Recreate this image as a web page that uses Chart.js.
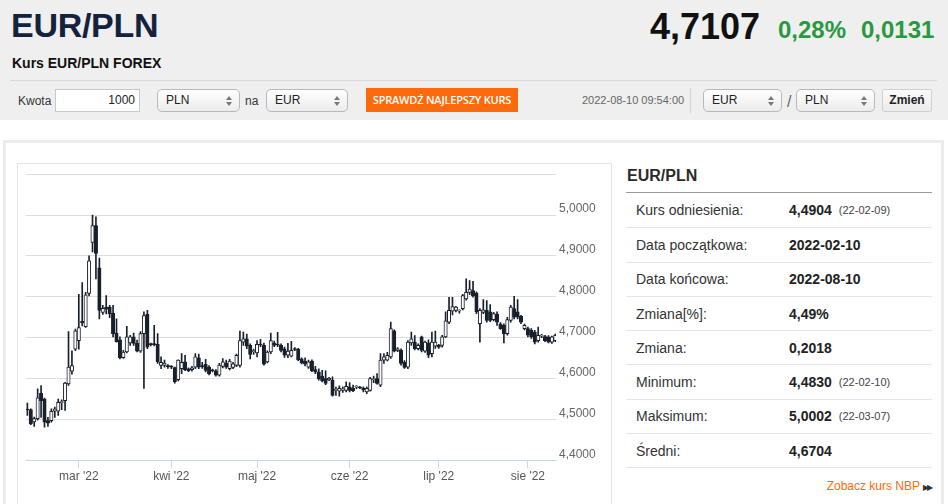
<!DOCTYPE html>
<html lang="pl">
<head>
<meta charset="UTF-8">
<title>Kurs EUR/PLN FOREX</title>
<script src="https://cdn.jsdelivr.net/npm/chart.js"></script>
<style>
    * { box-sizing: border-box; }
    body {
        margin: 0;
        width: 948px;
        height: 504px;
        overflow: hidden;
        background: #fff;
        font-family: Arial, "Liberation Sans", sans-serif;
        color: #333;
        position: relative;
    }
    .abs { position: absolute; white-space: nowrap; }
    .top {
        position: absolute; left: 0; top: 0; width: 948px; height: 120px;
        background: #efefef;
    }
    .title { left: 11px; top: 8px; font-size: 34px; line-height: 34px; font-weight: bold; color: #14223d; letter-spacing: -0.3px; }
    .subtitle { left: 12px; top: 56px; font-size: 14px; line-height: 14px; font-weight: bold; color: #111; }
    .price { left: 650px; top: 9px; font-size: 36px; line-height: 36px; font-weight: bold; color: #111; }
    .green { top: 18px; font-size: 24px; line-height: 24px; font-weight: bold; color: #28993f; }
    .sep { left: 10px; top: 80px; width: 927px; height: 1px; background: #d9d9d9; }
    .lbl { top: 95px; font-size: 12px; line-height: 12px; color: #333; }
    .input {
        left: 55px; top: 89px; width: 85px; height: 23px;
        background: #fff; border: 1px solid #c8c8c8;
        font-size: 12px; line-height: 21px; text-align: right; padding-right: 4px; color: #222;
    }
    .select {
        top: 89px; height: 23px; border: 1px solid #b9b9b9; border-radius: 5px;
        background: linear-gradient(#ffffff, #ececec);
        font-size: 12px; line-height: 21px; padding-left: 8px; color: #222;
    }
    .select .arr { position: absolute; right: 7px; top: 6px; width: 6px; height: 10px; }
    .select .arr::before, .select .arr::after {
        content: ""; position: absolute; left: 0; width: 0; height: 0;
        border-left: 3px solid transparent; border-right: 3px solid transparent;
    }
    .select .arr::before { top: 0; border-bottom: 4px solid #777; }
    .select .arr::after { top: 6px; border-top: 4px solid #777; }
    .orange {
        left: 366px; top: 88px; width: 152px; height: 24px; background: #fd6a0c;
        color: #fff; font-family: "Open Sans", Arial, sans-serif; font-size: 11px; font-weight: 600;
        line-height: 24px; text-align: center; letter-spacing: -0.2px;
    }
    .stamp { left: 582px; top: 95px; font-size: 11px; line-height: 11px; color: #666; }
    .vsep { left: 690px; top: 88px; width: 1px; height: 25px; background: #d2d2d2; }
    .slash { left: 787px; top: 94px; font-size: 16px; line-height: 16px; color: #666; }
    .btn {
        left: 882px; top: 89px; width: 50px; height: 23px; border: 1px solid #d0d0d0; border-radius: 2px;
        background: linear-gradient(#fafafa, #ebebeb);
        font-size: 12px; font-weight: bold; line-height: 21px; text-align: center; color: #222;
    }
    .box {
        left: 3px; top: 140px; width: 941px; height: 380px;
        border: 3px solid #ececec;
    }
    .chartbox {
        left: 17px; top: 163px; width: 595px; height: 350px;
        border: 1px solid #e4e4e4;
    }
    .chartwrap { left: 18px; top: 164px; width: 593px; height: 340px; }
    .side-title { left: 627px; top: 168px; font-size: 16px; line-height: 16px; font-weight: bold; color: #2b2b2b; }
    .side-line { left: 626px; top: 192px; width: 306px; height: 1px; background: #9a9a9a; }
    .stats { left: 626px; top: 193px; width: 306px; }
    .row {
        display: flex; align-items: center; height: 34.3px;
        border-bottom: 1px solid #e6e6e6; padding-left: 10px; font-size: 14px; color: #333;
    }
    .row:first-child { height: 35.3px; }
    .row .k { width: 153px; }
    .row .v { font-weight: bold; color: #222; }
    .row .d { margin-left: 7px; font-size: 11px; color: #444; }
    .nbp { right: 17px; top: 480px; font-size: 12px; line-height: 12px; color: #ff6a00; }
    .nbp span { color: #333; font-size: 8px; margin-left: 3px; letter-spacing: -2px; }
</style>
</head>
<body>
    <div class="top"></div>
    <div class="abs title">EUR/PLN</div>
    <div class="abs subtitle">Kurs EUR/PLN FOREX</div>
    <div class="abs price">4,7107</div>
    <div class="abs green" style="left:778px">0,28%</div>
    <div class="abs green" style="left:861px">0,0131</div>
    <div class="abs sep"></div>

    <div class="abs lbl" style="left:18px">Kwota</div>
    <div class="abs input">1000</div>
    <div class="abs select" style="left:157px;width:83px">PLN<i class="arr"></i></div>
    <div class="abs lbl" style="left:245px">na</div>
    <div class="abs select" style="left:266px;width:82px">EUR<i class="arr"></i></div>
    <div class="abs orange">SPRAWDŹ NAJLEPSZY KURS</div>
    <div class="abs stamp">2022-08-10 09:54:00</div>
    <div class="abs vsep"></div>
    <div class="abs select" style="left:703px;width:79px">EUR<i class="arr"></i></div>
    <div class="abs slash">/</div>
    <div class="abs select" style="left:796px;width:79px">PLN<i class="arr"></i></div>
    <div class="abs btn">Zmień</div>

    <div class="abs box"></div>
    <div class="abs chartbox"></div>
    <div class="abs chartwrap"><canvas id="candles"></canvas></div>

    <div class="abs side-title">EUR/PLN</div>
    <div class="abs side-line"></div>
    <div class="abs stats" id="stats"></div>
    <div class="abs nbp">Zobacz kurs NBP<span>▶▶</span></div>

<script>
    // daily EUR/PLN candles, 2022-02-11 .. 2022-08-10 (no Saturdays)
    const firstDay = '2022-02-11';
    const lastDay = '2022-08-10';
    const monthNames = ['sty', 'lut', 'mar', 'kwi', 'maj', 'cze', 'lip', 'sie', 'wrz', 'paź', 'lis', 'gru'];

    const open = [
        4.524, 4.524, 4.494, 4.502, 4.564, 4.550, 4.497, 4.497, 4.520, 4.520,
        4.541, 4.546, 4.587, 4.618, 4.672, 4.693, 4.740, 4.727, 4.808, 4.933,
        4.974, 4.871, 4.762, 4.775, 4.774, 4.760, 4.711, 4.695, 4.651, 4.665,
        4.687, 4.702, 4.687, 4.667, 4.710, 4.757, 4.684, 4.684, 4.684, 4.632,
        4.632, 4.631, 4.629, 4.627, 4.597, 4.624, 4.641, 4.624, 4.622, 4.628,
        4.651, 4.631, 4.635, 4.628, 4.620, 4.619, 4.608, 4.630, 4.638, 4.624,
        4.627, 4.632, 4.632, 4.689, 4.697, 4.681, 4.666, 4.663, 4.683, 4.681,
        4.641, 4.665, 4.687, 4.683, 4.681, 4.673, 4.657, 4.655, 4.672, 4.672,
        4.648, 4.643, 4.628, 4.643, 4.622, 4.616, 4.606, 4.600, 4.597, 4.596,
        4.571, 4.569, 4.571, 4.571, 4.580, 4.576, 4.579, 4.578, 4.576, 4.567,
        4.571, 4.597, 4.600, 4.584, 4.645, 4.645, 4.653, 4.717, 4.669, 4.669,
        4.640, 4.628, 4.687, 4.689, 4.673, 4.702, 4.667, 4.687, 4.661, 4.679,
        4.681, 4.681, 4.702, 4.738, 4.765, 4.767, 4.765, 4.771, 4.795, 4.811,
        4.815, 4.809, 4.734, 4.762, 4.767, 4.763, 4.744, 4.757, 4.734, 4.730,
        4.710, 4.742, 4.771, 4.763, 4.752, 4.722, 4.722, 4.718, 4.714, 4.693,
        4.704, 4.703, 4.702, 4.689, 4.693
    ];
    const high = [
        4.540, 4.526, 4.506, 4.575, 4.583, 4.552, 4.505, 4.526, 4.530, 4.550,
        4.548, 4.591, 4.715, 4.668, 4.721, 4.806, 4.835, 4.811, 4.900, 5.000,
        4.996, 4.895, 4.779, 4.803, 4.779, 4.779, 4.746, 4.702, 4.669, 4.728,
        4.706, 4.711, 4.694, 4.715, 4.763, 4.767, 4.687, 4.730, 4.710, 4.653,
        4.645, 4.634, 4.632, 4.628, 4.646, 4.661, 4.657, 4.626, 4.630, 4.661,
        4.660, 4.640, 4.647, 4.632, 4.623, 4.622, 4.637, 4.649, 4.645, 4.647,
        4.640, 4.660, 4.716, 4.714, 4.709, 4.685, 4.672, 4.693, 4.696, 4.687,
        4.668, 4.711, 4.692, 4.713, 4.685, 4.677, 4.686, 4.691, 4.676, 4.674,
        4.651, 4.651, 4.645, 4.646, 4.630, 4.624, 4.620, 4.619, 4.603, 4.604,
        4.579, 4.582, 4.580, 4.592, 4.590, 4.584, 4.583, 4.581, 4.580, 4.580,
        4.603, 4.606, 4.612, 4.661, 4.661, 4.664, 4.738, 4.719, 4.676, 4.673,
        4.644, 4.693, 4.714, 4.705, 4.685, 4.704, 4.692, 4.695, 4.714, 4.716,
        4.684, 4.706, 4.763, 4.799, 4.799, 4.777, 4.768, 4.806, 4.844, 4.840,
        4.838, 4.812, 4.771, 4.793, 4.791, 4.781, 4.762, 4.763, 4.737, 4.734,
        4.750, 4.779, 4.801, 4.793, 4.755, 4.733, 4.726, 4.722, 4.718, 4.726,
        4.708, 4.706, 4.705, 4.704, 4.709
    ];
    const low = [
        4.510, 4.487, 4.483, 4.498, 4.505, 4.481, 4.483, 4.493, 4.505, 4.510,
        4.524, 4.522, 4.583, 4.611, 4.668, 4.672, 4.729, 4.725, 4.802, 4.910,
        4.844, 4.746, 4.757, 4.758, 4.749, 4.702, 4.689, 4.648, 4.649, 4.663,
        4.681, 4.681, 4.665, 4.664, 4.576, 4.673, 4.680, 4.680, 4.637, 4.624,
        4.628, 4.625, 4.624, 4.589, 4.594, 4.612, 4.619, 4.617, 4.618, 4.624,
        4.624, 4.625, 4.616, 4.609, 4.616, 4.606, 4.606, 4.626, 4.625, 4.621,
        4.624, 4.629, 4.628, 4.681, 4.673, 4.648, 4.659, 4.653, 4.678, 4.633,
        4.638, 4.661, 4.678, 4.678, 4.665, 4.652, 4.651, 4.653, 4.668, 4.644,
        4.636, 4.631, 4.625, 4.617, 4.612, 4.596, 4.592, 4.585, 4.595, 4.557,
        4.559, 4.557, 4.566, 4.567, 4.567, 4.568, 4.575, 4.575, 4.567, 4.563,
        4.569, 4.590, 4.586, 4.580, 4.637, 4.643, 4.649, 4.665, 4.666, 4.633,
        4.625, 4.624, 4.681, 4.670, 4.670, 4.665, 4.664, 4.651, 4.653, 4.674,
        4.674, 4.677, 4.700, 4.734, 4.756, 4.763, 4.760, 4.768, 4.792, 4.805,
        4.799, 4.759, 4.689, 4.759, 4.738, 4.739, 4.741, 4.730, 4.720, 4.687,
        4.706, 4.738, 4.746, 4.746, 4.734, 4.719, 4.702, 4.698, 4.685, 4.689,
        4.700, 4.690, 4.687, 4.686, 4.690
    ];
    const close = [
        4.523, 4.489, 4.502, 4.553, 4.546, 4.493, 4.491, 4.520, 4.526, 4.542,
        4.542, 4.589, 4.628, 4.632, 4.717, 4.725, 4.736, 4.805, 4.888, 4.974,
        4.906, 4.767, 4.772, 4.770, 4.758, 4.710, 4.690, 4.651, 4.665, 4.702,
        4.702, 4.686, 4.667, 4.710, 4.754, 4.677, 4.683, 4.683, 4.641, 4.640,
        4.638, 4.629, 4.628, 4.592, 4.645, 4.640, 4.622, 4.619, 4.626, 4.653,
        4.628, 4.629, 4.620, 4.612, 4.619, 4.608, 4.633, 4.641, 4.628, 4.643,
        4.636, 4.657, 4.693, 4.697, 4.679, 4.659, 4.667, 4.684, 4.682, 4.635,
        4.665, 4.693, 4.681, 4.682, 4.669, 4.657, 4.667, 4.669, 4.671, 4.646,
        4.638, 4.635, 4.641, 4.619, 4.616, 4.600, 4.594, 4.588, 4.601, 4.559,
        4.572, 4.576, 4.575, 4.581, 4.571, 4.570, 4.580, 4.577, 4.572, 4.576,
        4.600, 4.599, 4.588, 4.645, 4.653, 4.657, 4.722, 4.667, 4.673, 4.637,
        4.627, 4.689, 4.697, 4.673, 4.681, 4.669, 4.689, 4.657, 4.689, 4.689,
        4.677, 4.702, 4.741, 4.767, 4.776, 4.775, 4.766, 4.803, 4.811, 4.819,
        4.803, 4.763, 4.767, 4.768, 4.742, 4.742, 4.759, 4.738, 4.722, 4.710,
        4.744, 4.775, 4.750, 4.750, 4.738, 4.730, 4.706, 4.702, 4.689, 4.706,
        4.705, 4.693, 4.689, 4.702, 4.706
    ];

    const yTicks = [4.4, 4.5, 4.6, 4.7, 4.8, 4.9, 5.0, 5.1];

    const statLabels = ['Kurs odniesienia:', 'Data początkowa:', 'Data końcowa:', 'Zmiana[%]:', 'Zmiana:', 'Minimum:', 'Maksimum:', 'Średni:'];
    const statValues = ['4,4904', '2022-02-10', '2022-08-10', '4,49%', '0,2018', '4,4830', '5,0002', '4,6704'];
    const statDates = ['(22-02-09)', '', '', '', '', '(22-02-10)', '(22-03-07)', ''];

    // side table
    const stats = document.getElementById('stats');
    statLabels.forEach((k, i) => {
        const row = document.createElement('div');
        row.className = 'row';
        row.innerHTML = '<span class="k">' + k + '</span><span class="v">' + statValues[i] + '</span>' +
            (statDates[i] ? '<span class="d">' + statDates[i] + '</span>' : '');
        stats.appendChild(row);
    });

    // trading days (forex: every day except Saturday)
    const days = [];
    for (let t = Date.parse(firstDay); t <= Date.parse(lastDay); t += 86400000) {
        const d = new Date(t);
        if (d.getUTCDay() !== 6) days.push(d);
    }
    const monthTicks = [];
    days.forEach((d, i) => {
        if (i > 0 && d.getUTCMonth() !== days[i - 1].getUTCMonth()) {
            monthTicks.push({ value: i, label: monthNames[d.getUTCMonth()] + " '" + String(d.getUTCFullYear()).slice(2) });
        }
    });

    const DARK = '#18202c';
    const isUp = i => close[i] >= open[i];
    const wicks = days.map((d, i) => ({ x: i, y: [low[i], high[i]] }));
    const bodies = days.map((d, i) => ({ x: i, y: [Math.min(open[i], close[i]), Math.max(open[i], close[i])] }));

    new Chart(document.getElementById('candles'), {
        type: 'bar',
        data: {
            datasets: [
                {
                    data: bodies,
                    order: 1,
                    grouped: false,
                    barThickness: 3.4,
                    minBarLength: 1,
                    borderWidth: 1,
                    borderSkipped: false,
                    borderColor: DARK,
                    backgroundColor: ctx => isUp(ctx.dataIndex) ? '#ffffff' : DARK
                },
                {
                    data: wicks,
                    order: 2,
                    grouped: false,
                    barThickness: 1,
                    borderWidth: 0,
                    backgroundColor: DARK
                }
            ]
        },
        options: {
            responsive: true,
            maintainAspectRatio: false,
            animation: false,
            events: [],
            layout: { padding: { left: 8, top: 9, right: 0, bottom: 0 } },
            plugins: { legend: { display: false }, tooltip: { enabled: false } },
            scales: {
                x: {
                    type: 'linear',
                    offset: false,
                    min: -0.4,
                    max: days.length - 0.8,
                    afterBuildTicks: scale => { scale.ticks = monthTicks.map(t => ({ value: t.value })); },
                    afterFit: scale => { scale.height = 43.7; },
                    grid: { offset: false, drawOnChartArea: false, color: '#ccd6eb', tickLength: 8 },
                    border: { color: '#ccd6eb' },
                    ticks: {
                        autoSkip: false,
                        maxRotation: 0,
                        padding: 1,
                        color: '#555',
                        font: { family: 'Arial, "Liberation Sans", sans-serif', size: 12 },
                        callback: v => {
                            const t = monthTicks.find(m => m.value === v);
                            return t ? t.label : '';
                        }
                    }
                },
                y: {
                    position: 'right',
                    min: yTicks[0],
                    max: yTicks[yTicks.length - 1],
                    afterBuildTicks: scale => { scale.ticks = yTicks.map(v => ({ value: v })); },
                    afterFit: scale => { scale.width = 55; },
                    grid: { color: '#dedede', drawTicks: false },
                    border: { display: false },
                    ticks: {
                        padding: 3,
                        labelOffset: -6,
                        color: '#666',
                        font: { family: 'Arial, "Liberation Sans", sans-serif', size: 12 },
                        callback: v => v > 5.05 ? '' : v.toFixed(4).replace('.', ',')
                    }
                }
            }
        }
    });
</script>
</body>
</html>
